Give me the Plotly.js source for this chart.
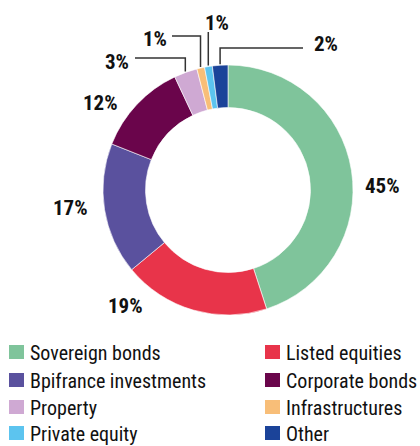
<!DOCTYPE html>
<html>
<head>
<meta charset="utf-8">
<script src="https://cdn.plot.ly/plotly-3.0.1.min.js"></script>
<style>html,body{margin:0;padding:0;background:#fff;}#chart{width:420px;height:446px;}</style>
</head>
<body>
<div id="chart"></div>
<script>
// ---- data ----
var categories = ["Sovereign bonds", "Listed equities", "Bpifrance investments", "Corporate bonds",
                  "Property", "Infrastructures", "Private equity", "Other"];
var values = [45, 19, 17, 12, 3, 1, 1, 2];
var valueLabels = ["45%", "19%", "17%", "12%", "3%", "1%", "1%", "2%"];
var colors = ["#7fc49b", "#e8344a", "#5a519e", "#6a054b", "#cfa9d3", "#f8be78", "#5cc4ef", "#1b4399"];

// ---- layout helpers (pixel geometry) ----
var W = 420, H = 446;
var cx = 228, cy = 190, R = 125;
function px(x) { return x / W; }
function py(y) { return 1 - y / H; }
var FONT = "'Liberation Sans Narrow', 'Arial Narrow', 'Roboto Condensed', 'DejaVu Sans Condensed', sans-serif";

// label text positions (px) and leader style per slice
var labelPos = [[382, 186], [125, 306], [70, 208], [100, 103], [117, 62], [155, 39], [217, 23], [326, 44]];
// leader: null, or {hx: horizontal line start x, hy: line y}
var leaders = [null, null, null, null, {hx: 135, hy: 58}, {hx: 172, hy: 36}, {vOnly: true, hy: 32}, {hx: 303, hy: 48}];

var total = values.reduce(function (a, b) { return a + b; }, 0);
var annotations = [], shapes = [];
var cum = 0;
values.forEach(function (v, i) {
  var mid = (cum + v / 2) / total * 2 * Math.PI;
  cum += v;
  annotations.push({
    xref: "paper", yref: "paper", x: px(labelPos[i][0]), y: py(labelPos[i][1]),
    text: "<b>" + valueLabels[i] + "</b>", showarrow: false, xanchor: "center", yanchor: "middle",
    font: {family: FONT, size: 21, color: "#111111"}
  });
  var L = leaders[i];
  if (L) {
    var ex = cx + (R + 1) * Math.sin(mid), ey = cy - (R + 1) * Math.cos(mid);
    var path;
    if (L.vOnly) {
      path = "M" + px(ex) + "," + py(L.hy) + " L" + px(ex) + "," + py(ey);
    } else {
      path = "M" + px(L.hx) + "," + py(L.hy) + " L" + px(ex) + "," + py(L.hy) + " L" + px(ex) + "," + py(ey);
    }
    shapes.push({type: "path", xref: "paper", yref: "paper", path: path,
                 line: {color: "#333333", width: 1.5}});
  }
});

// custom two-column legend
var legendCols = [9, 265], legendRows = [352, 380, 407, 433], sq = 14;
categories.forEach(function (c, i) {
  var col = i % 2, row = Math.floor(i / 2);
  var x0 = legendCols[col], yc = legendRows[row];
  shapes.push({type: "rect", xref: "paper", yref: "paper",
               x0: px(x0), x1: px(x0 + 15), y0: py(yc + sq / 2), y1: py(yc - sq / 2),
               fillcolor: colors[i], line: {width: 0}});
  annotations.push({xref: "paper", yref: "paper", x: px(x0 + 19), y: py(yc + 1),
                    text: c, showarrow: false, xanchor: "left", yanchor: "middle",
                    font: {family: FONT, size: 20, color: "#111111"}});
});

var trace = {
  type: "pie",
  labels: categories,
  values: values,
  hole: 0.66,
  sort: false,
  direction: "clockwise",
  rotation: 0,
  textinfo: "none",
  hoverinfo: "label+percent",
  marker: {colors: colors, line: {color: "#ffffff", width: 0.6}},
  domain: {x: [px(cx - R), px(cx + R)], y: [py(cy + R), py(cy - R)]},
  showlegend: false
};

var layout = {
  width: W, height: H,
  margin: {l: 0, r: 0, t: 0, b: 0},
  paper_bgcolor: "#ffffff",
  showlegend: false,
  annotations: annotations,
  shapes: shapes
};

Plotly.newPlot("chart", [trace], layout, {displayModeBar: false, staticPlot: true});
</script>
</body>
</html>
